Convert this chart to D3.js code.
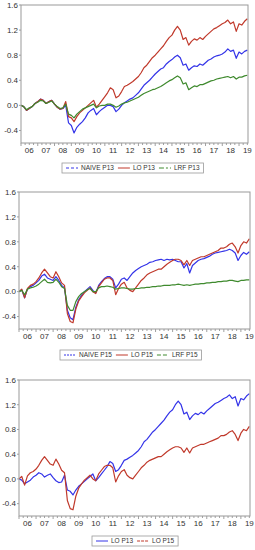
<!DOCTYPE html>
<html>
<head>
<meta charset="utf-8">
<script src="https://cdn.jsdelivr.net/npm/d3@7"></script>
<style>
  body { margin: 0; background: #fff; }
  svg { display: block; font-family: "Liberation Sans", Arial, sans-serif; }
</style>
</head>
<body>
<div id="chart"></div>
<script>
// two-monthly observations, Jan 2006 .. Jul 2019
var months = [
  "2006-01","2006-03","2006-05","2006-07","2006-09","2006-11",
  "2007-01","2007-03","2007-05","2007-07","2007-09","2007-11",
  "2008-01","2008-03","2008-05","2008-07","2008-09","2008-11",
  "2009-01","2009-03","2009-05","2009-07","2009-09","2009-11",
  "2010-01","2010-03","2010-05","2010-07","2010-09","2010-11",
  "2011-01","2011-03","2011-05","2011-07","2011-09","2011-11",
  "2012-01","2012-03","2012-05","2012-07","2012-09","2012-11",
  "2013-01","2013-03","2013-05","2013-07","2013-09","2013-11",
  "2014-01","2014-03","2014-05","2014-07","2014-09","2014-11",
  "2015-01","2015-03","2015-05","2015-07","2015-09","2015-11",
  "2016-01","2016-03","2016-05","2016-07","2016-09","2016-11",
  "2017-01","2017-03","2017-05","2017-07","2017-09","2017-11",
  "2018-01","2018-03","2018-05","2018-07","2018-09","2018-11",
  "2019-01","2019-03","2019-05","2019-07"
];

var naiveP13 = [
  0.0, -0.02, -0.08, -0.05, -0.02, 0.03,
  0.06, 0.1, 0.08, 0.03, 0.06, 0.08,
  0.02, -0.03, -0.06, -0.05, 0.0, -0.28,
  -0.32, -0.44, -0.35, -0.3, -0.26, -0.2,
  -0.12, -0.08, -0.05, -0.15, -0.1, -0.06,
  -0.03, 0.0, 0.0, -0.02, -0.1, -0.06,
  0.0, 0.04, 0.07, 0.1, 0.12, 0.16,
  0.2, 0.26, 0.32, 0.36, 0.4, 0.45,
  0.5, 0.54, 0.58, 0.6, 0.66, 0.7,
  0.73, 0.77, 0.8, 0.76, 0.64, 0.66,
  0.56, 0.6, 0.63, 0.62, 0.66, 0.64,
  0.68, 0.72, 0.74, 0.77, 0.79, 0.8,
  0.82, 0.85, 0.9, 0.86, 0.88, 0.75,
  0.85, 0.82, 0.86, 0.88
];
var loP13 = [
  0.0, -0.02, -0.08, -0.05, -0.02, 0.03,
  0.06, 0.1, 0.08, 0.03, 0.06, 0.08,
  0.02, -0.03, -0.06, -0.05, 0.06, -0.18,
  -0.2, -0.26, -0.18, -0.12, -0.08, -0.04,
  0.0, 0.04, 0.08, -0.03, 0.02, 0.08,
  0.14, 0.2, 0.28, 0.25, 0.12, 0.15,
  0.22, 0.3, 0.32, 0.35, 0.38, 0.42,
  0.46, 0.52, 0.6, 0.64, 0.7, 0.76,
  0.8, 0.85, 0.9, 0.95, 1.02, 1.08,
  1.12, 1.2, 1.26, 1.2, 1.05, 1.08,
  0.96, 1.02, 1.06, 1.04, 1.08, 1.05,
  1.1, 1.14, 1.18, 1.22, 1.24, 1.27,
  1.3, 1.32, 1.36, 1.3, 1.33, 1.18,
  1.3, 1.28, 1.34, 1.38
];
var lrfP13 = [
  0.0, -0.02, -0.07, -0.04, -0.02, 0.03,
  0.05, 0.08, 0.07, 0.03, 0.05, 0.07,
  0.02, -0.02, -0.05, -0.04, 0.02, -0.14,
  -0.16, -0.2, -0.14, -0.1, -0.06, -0.04,
  -0.02, 0.0, 0.02, -0.04, -0.01, 0.0,
  0.0, 0.02, 0.02, 0.0, -0.03, -0.01,
  0.02, 0.04, 0.05, 0.07, 0.09, 0.11,
  0.13, 0.16, 0.19, 0.21, 0.23, 0.25,
  0.26, 0.28, 0.3, 0.33, 0.36, 0.39,
  0.41, 0.44, 0.47, 0.44, 0.34, 0.36,
  0.25, 0.28, 0.31, 0.3, 0.33, 0.33,
  0.35, 0.37, 0.39, 0.4, 0.42, 0.43,
  0.44, 0.45, 0.46, 0.44, 0.46, 0.42,
  0.45, 0.45, 0.47, 0.48
];
var naiveP15 = [
  0.0, 0.03, -0.1, 0.04, 0.08, 0.1,
  0.14, 0.18, 0.25, 0.28, 0.22, 0.2,
  0.18, 0.24, 0.18, 0.1, 0.06, -0.3,
  -0.42, -0.45, -0.25, -0.13, -0.06, 0.0,
  0.04, 0.08, 0.02, -0.02, 0.1, 0.16,
  0.21, 0.24, 0.24, 0.2, 0.06, 0.12,
  0.2, 0.22, 0.18, 0.24, 0.3, 0.34,
  0.37, 0.4, 0.42, 0.44, 0.47, 0.48,
  0.5, 0.51, 0.52, 0.5, 0.52, 0.51,
  0.52, 0.5, 0.48, 0.48, 0.38, 0.45,
  0.3, 0.42, 0.46, 0.5, 0.52, 0.53,
  0.55, 0.57, 0.6, 0.62, 0.63, 0.64,
  0.65, 0.66, 0.68, 0.66, 0.62, 0.5,
  0.58, 0.63, 0.6, 0.64
];
var loP15 = [
  0.0, 0.04, -0.1, 0.05, 0.1, 0.12,
  0.16, 0.22, 0.3, 0.36, 0.3, 0.24,
  0.22, 0.32, 0.24, 0.14, 0.1, -0.35,
  -0.48, -0.5, -0.28, -0.15, -0.08, -0.02,
  0.02, 0.06, 0.0, -0.03, 0.08, 0.14,
  0.2, 0.22, 0.22, 0.18, -0.05, 0.05,
  0.12, 0.15, 0.06, 0.02, 0.0, 0.06,
  0.12, 0.18, 0.22, 0.27, 0.3, 0.32,
  0.34, 0.36, 0.36, 0.4, 0.44, 0.47,
  0.5, 0.52, 0.52, 0.5, 0.43, 0.5,
  0.42, 0.5, 0.52, 0.54, 0.56, 0.56,
  0.58, 0.6, 0.62, 0.64, 0.66, 0.7,
  0.7, 0.72, 0.76, 0.78, 0.72, 0.62,
  0.74, 0.8, 0.78, 0.85
];
var lrfP15 = [
  0.0, 0.02, -0.05, 0.04, 0.06, 0.07,
  0.09, 0.12, 0.16, 0.2, 0.15, 0.14,
  0.15, 0.2, 0.15, 0.08, 0.05, -0.22,
  -0.3, -0.3, -0.16, -0.08, -0.03, 0.0,
  0.03, 0.05, 0.0, 0.0, 0.06, 0.08,
  0.08, 0.09, 0.08, 0.07, 0.04, 0.05,
  0.06, 0.06, 0.05, 0.04, 0.04, 0.05,
  0.05, 0.06, 0.06, 0.07, 0.07, 0.08,
  0.08, 0.09, 0.09, 0.1, 0.1, 0.1,
  0.11, 0.11, 0.12, 0.11, 0.1, 0.11,
  0.1, 0.11, 0.12, 0.12, 0.13, 0.13,
  0.14, 0.14, 0.15, 0.15, 0.16, 0.16,
  0.17, 0.17, 0.18, 0.18, 0.17, 0.16,
  0.18, 0.18, 0.19, 0.19
];

var yTicks = [-0.4, 0.0, 0.4, 0.8, 1.2, 1.6];
var yearLabels = ["06","07","08","09","10","11","12","13","14","15","16","17","18","19"];

var blue = "#3434e8", red = "#c0392b", green = "#3f8a2e";

var parse = d3.timeParse("%Y-%m");
var dates = months.map(parse);

var panels = [
  { top: 5, bottom: 143, left: 21, right: 248, legendY: 163, legendX: 62,
    series: [
      { name: "NAIVE P13", values: naiveP13, color: blue, dash: "3,2" },
      { name: "LO P13", values: loP13, color: red, dash: null },
      { name: "LRF P13", values: lrfP13, color: green, dash: "5,2,2,2" }
    ] },
  { top: 192, bottom: 329, left: 19, right: 250, legendY: 350, legendX: 60,
    series: [
      { name: "NAIVE P15", values: naiveP15, color: blue, dash: "2,1" },
      { name: "LO P15", values: loP15, color: red, dash: null },
      { name: "LRF P15", values: lrfP15, color: green, dash: "4,2" }
    ] },
  { top: 380, bottom: 516, left: 19, right: 250, legendY: 536, legendX: 92,
    series: [
      { name: "LO P13", values: loP13, color: blue, dash: null },
      { name: "LO P15", values: loP15, color: red, dash: "3,1" }
    ] }
];

var svg = d3.select("#chart").append("svg")
    .attr("width", 255)
    .attr("height", 550);

panels.forEach(function (p) {
  var x = d3.scaleTime()
      .domain([new Date(2006, 0, 1), new Date(2019, 6, 15)])
      .range([p.left, p.right]);
  var y = d3.scaleLinear()
      .domain([-0.6, 1.6])
      .range([p.bottom, p.top]);

  var g = svg.append("g");

  // y axis labels + ticks
  yTicks.forEach(function (t) {
    g.append("line")
      .attr("x1", p.left - 2).attr("x2", p.left)
      .attr("y1", y(t)).attr("y2", y(t))
      .attr("stroke", "#888").attr("stroke-width", 0.8);
    g.append("text")
      .attr("x", p.left - 3)
      .attr("y", y(t))
      .attr("dy", "0.35em")
      .attr("text-anchor", "end")
      .style("font-size", "8px")
      .style("fill", "#333")
      .text(t.toFixed(1));
  });

  // x axis: quarterly small ticks, year labels mid-year
  var quarters = d3.timeMonth.every(3).range(new Date(2006, 0, 1), new Date(2019, 7, 1));
  g.selectAll(".qt").data(quarters).enter().append("line")
    .attr("x1", function (d) { return x(d); })
    .attr("x2", function (d) { return x(d); })
    .attr("y1", p.bottom)
    .attr("y2", function (d) { return p.bottom + (d.getMonth() == 0 ? 3 : 2); })
    .attr("stroke", "#888").attr("stroke-width", 0.8);

  g.selectAll(".yl").data(yearLabels).enter().append("text")
    .attr("x", function (d) {
      var yr = 2000 + parseInt(d, 10);
      return x(new Date(yr, 6, 1));
    })
    .attr("y", p.bottom + 10)
    .attr("text-anchor", "middle")
    .style("font-size", "8px")
    .style("fill", "#333")
    .text(function (d) { return d; });

  // lines
  var line = d3.line()
      .x(function (d, i) { return x(dates[i]); })
      .y(function (d) { return y(d); });

  var clipId = "clip" + p.top;
  g.append("clipPath").attr("id", clipId).append("rect")
    .attr("x", p.left).attr("y", p.top)
    .attr("width", p.right - p.left).attr("height", p.bottom - p.top);

  p.series.forEach(function (s) {
    g.append("path")
      .datum(s.values)
      .attr("clip-path", "url(#" + clipId + ")")
      .attr("fill", "none")
      .attr("stroke", s.color)
      .attr("stroke-width", 1.2)
      .attr("stroke-linejoin", "round")
      .attr("d", line);
  });

  // frame
  g.append("rect")
    .attr("x", p.left).attr("y", p.top)
    .attr("width", p.right - p.left).attr("height", p.bottom - p.top)
    .attr("fill", "none")
    .attr("stroke", "#999")
    .attr("stroke-width", 1);

  // legend
  var lg = g.append("g").attr("transform", "translate(" + p.legendX + "," + p.legendY + ")");
  var box = lg.append("rect")
    .attr("height", 10)
    .attr("fill", "#fff")
    .attr("stroke", "#999")
    .attr("stroke-width", 0.8);
  var cx = 4;
  p.series.forEach(function (s) {
    lg.append("line")
      .attr("x1", cx).attr("x2", cx + 12)
      .attr("y1", 5).attr("y2", 5)
      .attr("stroke", s.color)
      .attr("stroke-width", 1)
      .attr("stroke-dasharray", s.dash);
    var t = lg.append("text")
      .attr("x", cx + 15)
      .attr("y", 5)
      .attr("dy", "0.35em")
      .style("font-size", "6.5px")
      .style("fill", "#333")
      .text(s.name);
    cx += 15 + t.node().getComputedTextLength() + 4;
  });
  box.attr("width", cx);
});
</script>
</body>
</html>
